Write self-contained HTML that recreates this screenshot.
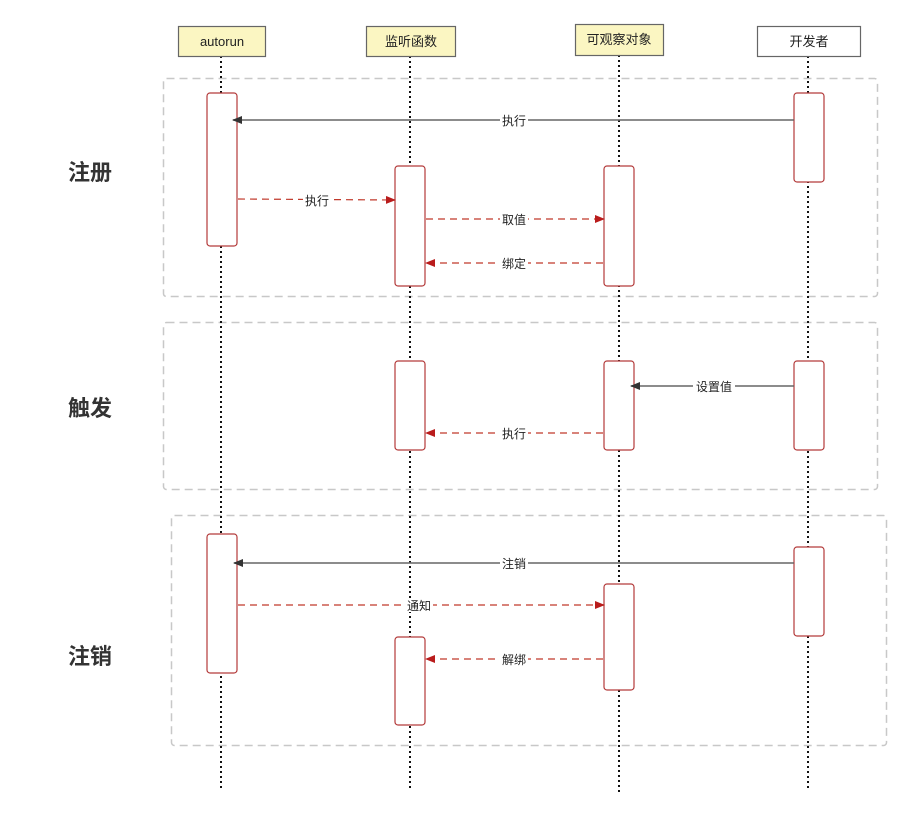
<!DOCTYPE html>
<html><head><meta charset="utf-8"><style>
html,body{margin:0;padding:0;background:#fff;}
svg text{font-family:"Liberation Sans","Noto Sans CJK SC",sans-serif;}
</style></head><body>
<svg width="911" height="818" viewBox="0 0 911 818" xmlns="http://www.w3.org/2000/svg">
<defs>
<marker id="ab" markerWidth="10" markerHeight="8" refX="9" refY="4" orient="auto" markerUnits="userSpaceOnUse"><path d="M0,0 L10,4 L0,8 Z" fill="#333"/></marker>
<marker id="ar" markerWidth="10" markerHeight="8" refX="9" refY="4" orient="auto" markerUnits="userSpaceOnUse"><path d="M0,0 L10,4 L0,8 Z" fill="#b91c1c"/></marker>
</defs>
<!-- groups -->
<g fill="none" stroke="#c8c8c8" stroke-width="1.5" stroke-dasharray="8,5">
<rect x="163.5" y="78.5" width="714" height="218" rx="3"/>
<rect x="163.5" y="322.5" width="714" height="167" rx="3"/>
<rect x="171.5" y="515.5" width="715" height="230" rx="3"/>
</g>
<!-- lifelines -->
<g stroke="#111" stroke-width="2" stroke-dasharray="2,3">
<line x1="221" y1="56" x2="221" y2="788"/>
<line x1="410" y1="56" x2="410" y2="788"/>
<line x1="619" y1="55" x2="619" y2="792"/>
<line x1="808" y1="56" x2="808" y2="788"/>
</g>
<!-- headers -->
<g stroke="#666" stroke-width="1.2">
<rect x="178.5" y="26.5" width="87" height="30" fill="#fbf6c2"/>
<rect x="366.5" y="26.5" width="89" height="30" fill="#fbf6c2"/>
<rect x="575.5" y="24.5" width="88" height="31" fill="#fbf6c2"/>
<rect x="757.5" y="26.5" width="103" height="30" fill="#fff"/>
</g>
<g font-size="13" fill="#222" text-anchor="middle">
<text x="222" y="46">autorun</text>
<text x="411" y="46">监听函数</text>
<text x="619" y="44">可观察对象</text>
<text x="809" y="46">开发者</text>
</g>
<!-- activation bars -->
<g fill="#fff" stroke="#b33a3a" stroke-width="1.2">
<rect x="207" y="93" width="30" height="153" rx="3"/>
<rect x="395" y="166" width="30" height="120" rx="3"/>
<rect x="604" y="166" width="30" height="120" rx="3"/>
<rect x="794" y="93" width="30" height="89" rx="3"/>
<rect x="395" y="361" width="30" height="89" rx="3"/>
<rect x="604" y="361" width="30" height="89" rx="3"/>
<rect x="794" y="361" width="30" height="89" rx="3"/>
<rect x="207" y="534" width="30" height="139" rx="3"/>
<rect x="794" y="547" width="30" height="89" rx="3"/>
<rect x="604" y="584" width="30" height="106" rx="3"/>
<rect x="395" y="637" width="30" height="88" rx="3"/>
</g>
<!-- solid arrows -->
<g stroke="#666" stroke-width="1.5" fill="none">
<line x1="794" y1="120" x2="233" y2="120" marker-end="url(#ab)"/>
<line x1="794" y1="386" x2="631" y2="386" marker-end="url(#ab)"/>
<line x1="794" y1="563" x2="234" y2="563" marker-end="url(#ab)"/>
</g>
<!-- dashed arrows -->
<g stroke="#c0392b" stroke-width="1.2" stroke-dasharray="7,5" fill="none">
<line x1="238" y1="199" x2="395" y2="200" marker-end="url(#ar)"/>
<line x1="426" y1="219" x2="604" y2="219" marker-end="url(#ar)"/>
<line x1="603" y1="263" x2="426" y2="263" marker-end="url(#ar)"/>
<line x1="603" y1="433" x2="426" y2="433" marker-end="url(#ar)"/>
<line x1="238" y1="605" x2="604" y2="605" marker-end="url(#ar)"/>
<line x1="603" y1="659" x2="426" y2="659" marker-end="url(#ar)"/>
</g>
<!-- labels -->
<g font-size="12" fill="#222" text-anchor="middle">
<g fill="#fff"><rect x="500" y="113" width="28" height="14"/><rect x="303" y="193" width="28" height="14"/><rect x="500" y="212" width="28" height="14"/><rect x="500" y="256" width="28" height="14"/><rect x="693" y="379" width="42" height="14"/><rect x="500" y="426" width="28" height="14"/><rect x="500" y="556" width="28" height="14"/><rect x="405" y="598" width="28" height="14"/><rect x="500" y="652" width="28" height="14"/></g>
<text x="514" y="125">执行</text>
<text x="317" y="205">执行</text>
<text x="514" y="224">取值</text>
<text x="514" y="268">绑定</text>
<text x="714" y="391">设置值</text>
<text x="514" y="438">执行</text>
<text x="514" y="568">注销</text>
<text x="419" y="610">通知</text>
<text x="514" y="664">解绑</text>
</g>
<g font-size="22" font-weight="bold" fill="#333">
<text x="68" y="180">注册</text>
<text x="68" y="416">触发</text>
<text x="68" y="664">注销</text>
</g>
</svg>
</body></html>
